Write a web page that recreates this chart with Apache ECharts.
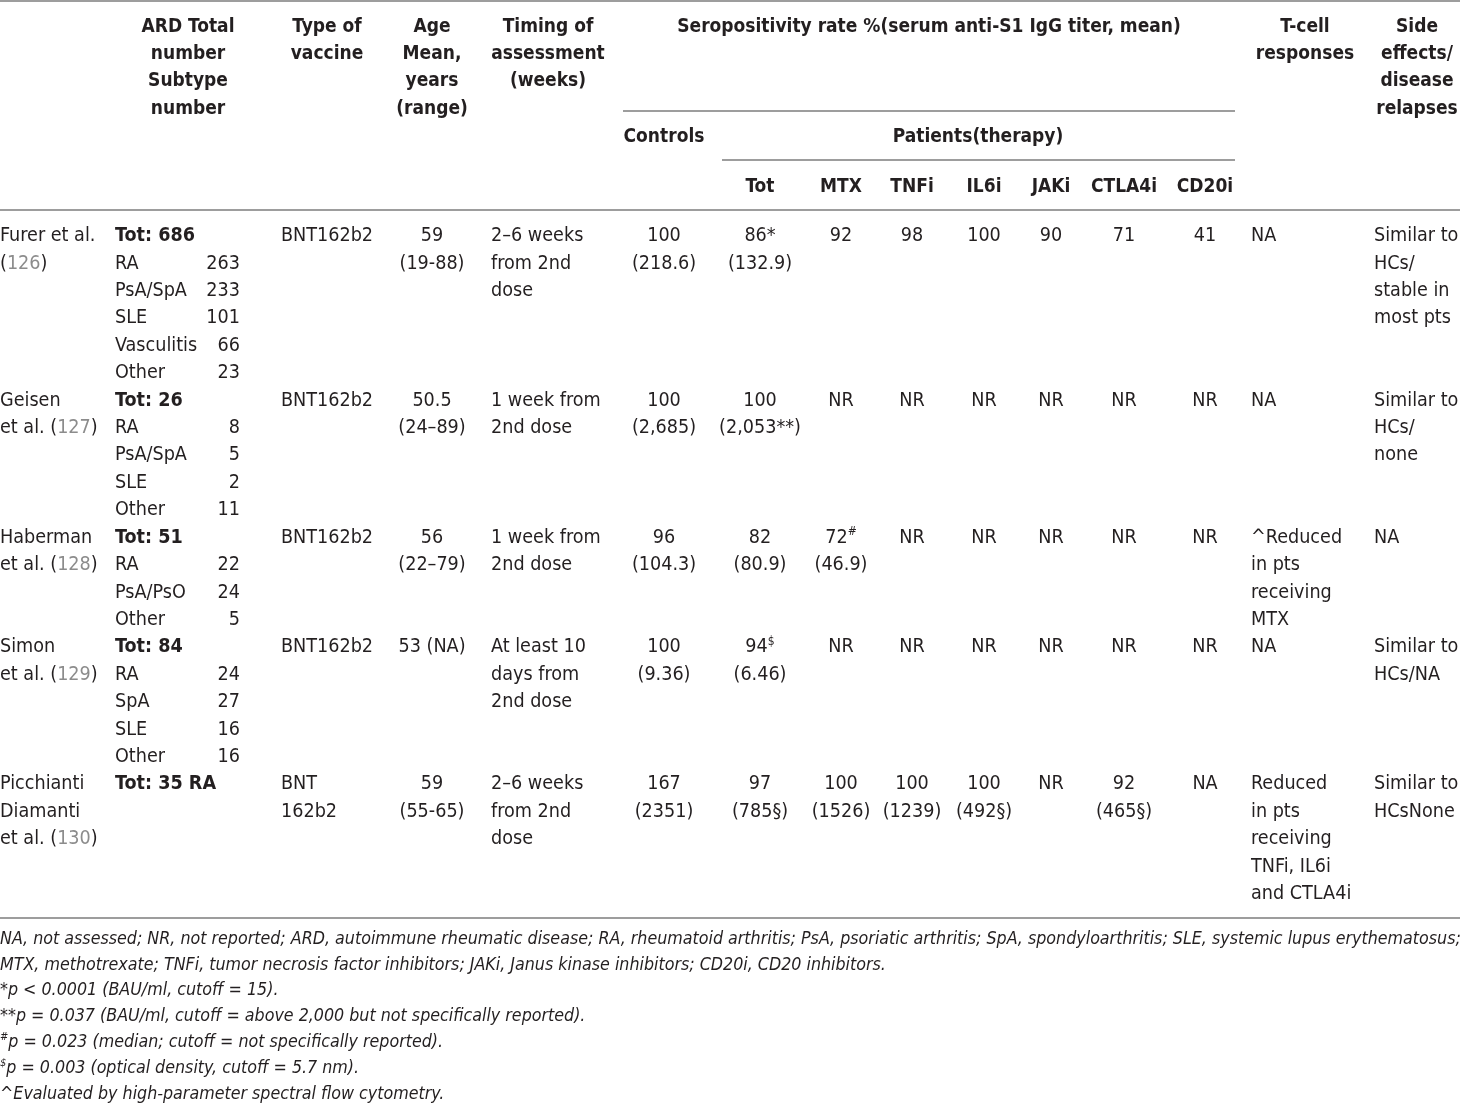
<!DOCTYPE html>
<html><head><meta charset="utf-8">
<script src="https://cdn.jsdelivr.net/npm/echarts@6/dist/echarts.min.js"></script>
<style>html,body{margin:0;padding:0;background:#fff}#c{width:1460px;height:1105px}</style>
</head><body><div id="c"></div>
<script>
// ---------------- DATA ----------------
const studyLines = [["Furer et al."], ["Geisen", "et al."], ["Haberman", "et al."], ["Simon", "et al."], ["Picchianti", "Diamanti", "et al."]];
const studyRefs = [126, 127, 128, 129, 130];
const refOnOwnLine = [true, false, false, false, false];
const ardTotals = ["Tot: 686", "Tot: 26", "Tot: 51", "Tot: 84", "Tot: 35 RA"];
const ardSubtypes = [
  [["RA", 263], ["PsA/SpA", 233], ["SLE", 101], ["Vasculitis", 66], ["Other", 23]],
  [["RA", 8], ["PsA/SpA", 5], ["SLE", 2], ["Other", 11]],
  [["RA", 22], ["PsA/PsO", 24], ["Other", 5]],
  [["RA", 24], ["SpA", 27], ["SLE", 16], ["Other", 16]],
  []
];
const vaccines = [["BNT162b2"], ["BNT162b2"], ["BNT162b2"], ["BNT162b2"], ["BNT", "162b2"]];
const ages = [["59", "(19-88)"], ["50.5", "(24–89)"], ["56", "(22–79)"], ["53 (NA)"], ["59", "(55-65)"]];
const timings = [["2–6 weeks", "from 2nd", "dose"], ["1 week from", "2nd dose"], ["1 week from", "2nd dose"], ["At least 10", "days from", "2nd dose"], ["2–6 weeks", "from 2nd", "dose"]];
const controls = [["100", "(218.6)"], ["100", "(2,685)"], ["96", "(104.3)"], ["100", "(9.36)"], ["167", "(2351)"]];
const patientsTot = [["86*", "(132.9)"], ["100", "(2,053**)"], ["82", "(80.9)"], ["94[$]", "(6.46)"], ["97", "(785§)"]];
const mtx = [["92"], ["NR"], ["72[#]", "(46.9)"], ["NR"], ["100", "(1526)"]];
const tnfi = [["98"], ["NR"], ["NR"], ["NR"], ["100", "(1239)"]];
const il6i = [["100"], ["NR"], ["NR"], ["NR"], ["100", "(492§)"]];
const jaki = [["90"], ["NR"], ["NR"], ["NR"], ["NR"]];
const ctla4i = [["71"], ["NR"], ["NR"], ["NR"], ["92", "(465§)"]];
const cd20i = [["41"], ["NR"], ["NR"], ["NR"], ["NA"]];
const tcell = [["NA"], ["NA"], ["^Reduced", "in pts", "receiving", "MTX"], ["NA"], ["Reduced", "in pts", "receiving", "TNFi, IL6i", "and CTLA4i"]];
const sideEffects = [["Similar to", "HCs/", "stable in", "most pts"], ["Similar to", "HCs/", "none"], ["NA"], ["Similar to", "HCs/NA"], ["Similar to", "HCsNone"]];

const headARD = ["ARD Total", "number", "Subtype", "number"];
const headVaccine = ["Type of", "vaccine"];
const headAge = ["Age", "Mean,", "years", "(range)"];
const headTiming = ["Timing of", "assessment", "(weeks)"];
const headSero = "Seropositivity rate %(serum anti-S1 IgG titer, mean)";
const headControls = "Controls";
const headPatients = "Patients(therapy)";
const therapyHeads = ["Tot", "MTX", "TNFi", "IL6i", "JAKi", "CTLA4i", "CD20i"];
const headTcell = ["T-cell", "responses"];
const headSide = ["Side", "effects/", "disease", "relapses"];

const footnotes = [
  "NA, not assessed; NR, not reported; ARD, autoimmune rheumatic disease; RA, rheumatoid arthritis; PsA, psoriatic arthritis; SpA, spondyloarthritis; SLE, systemic lupus erythematosus;",
  "MTX, methotrexate; TNFi, tumor necrosis factor inhibitors; JAKi, Janus kinase inhibitors; CD20i, CD20 inhibitors.",
  "*p < 0.0001 (BAU/ml, cutoff = 15).",
  "**p = 0.037 (BAU/ml, cutoff = above 2,000 but not specifically reported).",
  "[#]p = 0.023 (median; cutoff = not specifically reported).",
  "[$]p = 0.003 (optical density, cutoff = 5.7 nm).",
  "^Evaluated by high-parameter spectral flow cytometry."
];

// ---------------- LAYOUT ----------------
const FAM = "'DejaVu Sans Condensed','Liberation Sans Narrow',sans-serif";
const BODY_SIZE = 19.6, HEAD_SIZE = 19, FOOT_SIZE = 17.7;
const TEXT_COLOR = '#231f20', REF_COLOR = '#8c8c8c', RULE_COLOR = '#9d9d9d';
const L = {
  headY: 27, headLH: 27.2, ctrlY: 137, subY: 187,
  bodyY: 236, bodyLH: 27.42,
  footY: 939, footLH: 25.9,
  rules: { top: 1, mid1: 111, mid2: 160, head: 210, bottom: 918 },
  x: { study: 0, ardName: 115, ardNum: 240, ardHead: 188, vaccine: 281, vaccineHead: 327,
       age: 432, timing: 491, timingHead: 548, sero: 929, controls: 664, patients: 978,
       therapy: [760, 841, 912, 984, 1051, 1124, 1205], tcell: 1251, tcellHead: 1305,
       side: 1374, sideHead: 1417, mid1From: 623, mid2From: 722, midTo: 1235, right: 1460 }
};

function rich(size, weight, style) {
  return {
    sup: { fontSize: Math.round(size * 0.62), fontFamily: FAM, fontWeight: weight, fontStyle: style, fill: TEXT_COLOR, verticalAlign: 'top', lineHeight: size * 1.2 },
    ref: { fontSize: size, fontFamily: FAM, fontWeight: weight, fontStyle: style, fill: REF_COLOR, lineHeight: size * 1.2 },
    n: { fontSize: size, fontFamily: FAM, fontWeight: weight, fontStyle: style, fill: TEXT_COLOR, lineHeight: size * 1.2 }
  };
}
function mark(s) {
  const parts = [];
  const re = /\[(.+?)\]/g; let last = 0, m;
  while ((m = re.exec(s)) !== null) {
    if (m.index > last) parts.push('{n|' + s.slice(last, m.index) + '}');
    parts.push('{sup|' + m[1] + '}');
    last = re.lastIndex;
  }
  if (last < s.length) parts.push('{n|' + s.slice(last) + '}');
  return parts.join('');
}
const els = [];
function text(x, y, str, align, opts) {
  opts = opts || {};
  const size = opts.size || BODY_SIZE, weight = opts.weight || 'normal', style = opts.style || 'normal';
  els.push({
    type: 'text', x: x, y: y, silent: true,
    style: {
      text: opts.raw ? str : mark(str),
      rich: rich(size, weight, style),
      font: style + ' ' + weight + ' ' + size + 'px ' + FAM,
      fill: TEXT_COLOR, align: align, verticalAlign: 'middle'
    }
  });
}
function rule(x1, x2, y) {
  els.push({ type: 'line', silent: true, shape: { x1: x1, y1: y, x2: x2, y2: y }, style: { stroke: RULE_COLOR, lineWidth: 2 } });
}

// ---------------- BUILD ----------------
rule(0, L.x.right, L.rules.top);
rule(L.x.mid1From, L.x.midTo, L.rules.mid1);
rule(L.x.mid2From, L.x.midTo, L.rules.mid2);
rule(0, L.x.right, L.rules.head);
rule(0, L.x.right, L.rules.bottom);

const H = { size: HEAD_SIZE, weight: 'bold' };
const hy = i => L.headY + i * L.headLH;
headARD.forEach((s, i) => text(L.x.ardHead, hy(i), s, 'center', H));
headVaccine.forEach((s, i) => text(L.x.vaccineHead, hy(i), s, 'center', H));
headAge.forEach((s, i) => text(L.x.age, hy(i), s, 'center', H));
headTiming.forEach((s, i) => text(L.x.timingHead, hy(i), s, 'center', H));
text(L.x.sero, hy(0), headSero, 'center', H);
headTcell.forEach((s, i) => text(L.x.tcellHead, hy(i), s, 'center', H));
headSide.forEach((s, i) => text(L.x.sideHead, hy(i), s, 'center', H));
text(L.x.controls, L.ctrlY, headControls, 'center', H);
text(L.x.patients, L.ctrlY, headPatients, 'center', H);
therapyHeads.forEach((s, i) => text(L.x.therapy[i], L.subY, s, 'center', H));

let line = 0;
const therapyCols = [patientsTot, mtx, tnfi, il6i, jaki, ctla4i, cd20i];
for (let r = 0; r < studyLines.length; r++) {
  const y = k => L.bodyY + (line + k) * L.bodyLH;
  const sl = studyLines[r].slice();
  const refTok = '{n|(}{ref|' + studyRefs[r] + '}{n|)}';
  const studyRich = sl.map(s => '{n|' + s + '}');
  if (refOnOwnLine[r]) studyRich.push(refTok);
  else studyRich[studyRich.length - 1] += '{n| }' + refTok;
  studyRich.forEach((s, k) => text(L.x.study, y(k), s, 'left', { raw: true }));
  text(L.x.ardName, y(0), ardTotals[r], 'left', { weight: 'bold' });
  ardSubtypes[r].forEach((p, k) => {
    text(L.x.ardName, y(k + 1), p[0], 'left');
    text(L.x.ardNum, y(k + 1), String(p[1]), 'right');
  });
  vaccines[r].forEach((s, k) => text(L.x.vaccine, y(k), s, 'left'));
  ages[r].forEach((s, k) => text(L.x.age, y(k), s, 'center'));
  timings[r].forEach((s, k) => text(L.x.timing, y(k), s, 'left'));
  controls[r].forEach((s, k) => text(L.x.controls, y(k), s, 'center'));
  therapyCols.forEach((col, c) => col[r].forEach((s, k) => text(L.x.therapy[c], y(k), s, 'center')));
  tcell[r].forEach((s, k) => text(L.x.tcell, y(k), s, 'left'));
  sideEffects[r].forEach((s, k) => text(L.x.side, y(k), s, 'left'));
  const n = Math.max(studyLines[r].length + (refOnOwnLine[r] ? 1 : 0), 1 + ardSubtypes[r].length,
    vaccines[r].length, ages[r].length, timings[r].length, tcell[r].length, sideEffects[r].length);
  line += n;
}

footnotes.forEach((s, i) => text(0, L.footY + i * L.footLH, s, 'left', { size: FOOT_SIZE, style: 'italic' }));

const chart = echarts.init(document.getElementById('c'), null, { renderer: 'canvas' });
chart.setOption({ backgroundColor: '#ffffff', animation: false, graphic: { elements: els } });
</script>
</body></html>
